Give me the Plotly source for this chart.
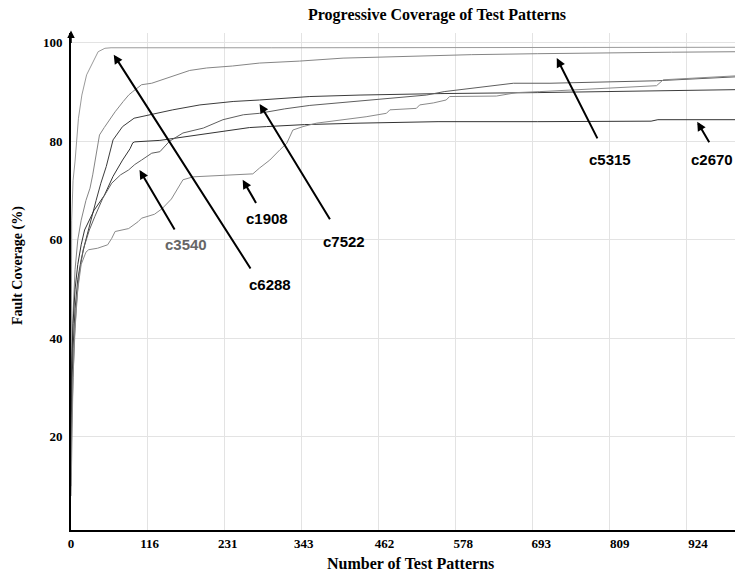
import plotly.graph_objects as go

# ---------------- data ----------------
x_tick_vals = [0, 116, 231, 343, 462, 578, 693, 809, 924]
x_tick_text = ["0", "116", "231", "343", "462", "578", "693", "809", "924"]
x_grid_vals = [113.4, 226.8, 340.2, 453.6, 567, 680.4, 793.8, 907.2]
y_tick_vals = [20, 40, 60, 80, 100]

patterns_c6288 = [0, 0.5, 1, 3, 6, 11, 16, 23, 32, 40, 50, 59, 295, 590, 980]
coverage_c6288 = [12, 50, 64, 72, 76, 84.7, 89.4, 93.5, 96, 98.2, 98.9, 99.0, 99.0, 99.05, 99.1]

patterns_c5315 = [0, 1, 3, 6, 10, 15, 22, 28, 32, 37, 42, 49, 55, 65, 77, 85, 91, 104, 119,
                  134, 148, 175, 200, 238, 278, 337, 401, 492, 590, 688, 786, 885, 980]
coverage_c5315 = [20, 35, 45, 54, 60, 64, 68, 70.5, 73.2, 77.5, 81.3, 82.8, 84, 86, 88.1, 89.4,
                  90.1, 91.5, 91.8, 92.5, 93, 94.4, 94.9, 95.3, 95.9, 96.3, 96.9, 97.3, 97.6,
                  97.8, 98.0, 98.1, 98.2]

patterns_c7522 = [0, 1, 3, 6, 10, 15, 20, 29, 37, 44, 52, 62, 76, 93, 116, 150, 190, 239, 278,
                  352, 426, 544, 688, 836, 980]
coverage_c7522 = [15, 28, 38, 46, 52, 56, 59, 64, 68, 71.5, 74.9, 80.3, 83, 84.7, 85.4, 86.4,
                  87.4, 88.1, 88.4, 89.1, 89.4, 89.7, 89.9, 90.2, 90.5]

patterns_c2670 = [0, 1, 3, 6, 10, 15, 20, 34, 49, 62, 76, 87, 91, 94, 131, 197, 263, 288, 344,
                  426, 541, 688, 855, 865, 980]
coverage_c2670 = [25, 35, 43, 50, 55, 59, 62, 66, 69, 72.9, 76.2, 78.5, 79.7, 79.9, 80.2, 81.5,
                  82.8, 83.0, 83.4, 83.7, 84.0, 84.0, 84.1, 84.4, 84.4]

patterns_c3540 = [0, 1, 3, 5, 8, 12, 18, 27, 35, 47, 60, 73, 85, 94, 104, 119, 131, 145, 165,
                  195, 224, 254, 278, 315, 352, 411, 433, 524, 550, 607, 652, 706, 863, 980]
coverage_c3540 = [10, 22, 32, 40, 47, 53, 58, 62, 64.7, 68.5, 71.5, 73.2, 74.2, 75.3, 76.2,
                  77.6, 77.9, 80, 81.7, 82.7, 84.4, 85.4, 85.7, 86.6, 87.3, 88.0, 88.3, 89.4,
                  90.1, 91.1, 91.8, 91.8, 92.3, 93.1]

patterns_c1908 = [0, 1, 3, 6, 10, 15, 22, 26, 39, 54, 60, 65, 85, 99, 104, 123, 134, 148, 157,
                  165, 180, 268, 278, 293, 308, 318, 327, 342, 362, 411, 435, 465, 470, 509,
                  514, 534, 553, 558, 627, 657, 691, 863, 873, 980]
coverage_c1908 = [8, 20, 32, 42, 50, 55, 57.5, 58, 58.3, 59, 60.3, 61.7, 62.3, 63.7, 64.4, 65.2,
                  66.3, 68.3, 70.3, 72.2, 72.8, 73.4, 74.6, 76.2, 78.3, 79.6, 82.3, 83, 83.7,
                  84.5, 85, 85.7, 86.4, 86.7, 87.4, 87.8, 88.4, 89.1, 89.2, 89.9, 90.1, 91.3,
                  92.5, 93.3]

series = [
    ("c6288", patterns_c6288, coverage_c6288, "#9a9a9a"),
    ("c5315", patterns_c5315, coverage_c5315, "#858585"),
    ("c7522", patterns_c7522, coverage_c7522, "#3c3c3c"),
    ("c2670", patterns_c2670, coverage_c2670, "#333333"),
    ("c3540", patterns_c3540, coverage_c3540, "#5e5e5e"),
    ("c1908", patterns_c1908, coverage_c1908, "#8a8a8a"),
]

# label: (tip_x, tip_y, tail_x, tail_y, label_x, label_y, colour)
labels = [
    ("c6288", 63, 97.6, 266, 53.9, 294, 51.0, "#000000"),
    ("c3540", 101, 74.2, 154, 61.8, 170, 59.0, "#666666"),
    ("c1908", 253, 72.2, 274, 67.2, 289, 64.4, "#000000"),
    ("c7522", 278, 87.6, 383, 63.9, 403, 59.7, "#000000"),
    ("c5315", 716, 96.9, 777, 80.3, 794, 76.4, "#000000"),
    ("c2670", 923, 84.0, 942, 79.5, 945, 76.4, "#000000"),
]

# ---------------- figure ----------------
fig = go.Figure()
for name, xs, ys, col in series:
    fig.add_trace(go.Scatter(x=xs, y=ys, mode="lines", name=name,
                             line=dict(color=col, width=1), showlegend=False))

serif = "Liberation Serif, Times New Roman, serif"
sans = "Liberation Sans, Arial, sans-serif"

annotations = []
for name, tx, ty, ax, ay, lx, ly, col in labels:
    annotations.append(dict(x=tx, y=ty, ax=ax, ay=ay, xref="x", yref="y", axref="x", ayref="y",
                            text="", showarrow=True, arrowhead=2, arrowsize=0.9, arrowwidth=2,
                            arrowcolor="#000000"))
    annotations.append(dict(x=lx, y=ly, xref="x", yref="y", text=name, showarrow=False,
                            font=dict(family=sans, size=15, color=col, weight="bold"),
                            xanchor="center", yanchor="middle"))

# title and axis titles
annotations.append(dict(x=0.551, y=1.0362, xref="paper", yref="paper",
                        text="Progressive Coverage of Test Patterns", showarrow=False,
                        font=dict(family=serif, size=16, color="#000", weight="bold"),
                        xanchor="center", yanchor="middle"))
annotations.append(dict(x=0.512, y=-0.068, xref="paper", yref="paper",
                        text="Number of Test Patterns", showarrow=False,
                        font=dict(family=serif, size=16, color="#000", weight="bold"),
                        xanchor="center", yanchor="middle"))
annotations.append(dict(x=0, y=0.531, xref="paper", yref="paper", xshift=-53,
                        text="Fault Coverage (%)", showarrow=False, textangle=-90,
                        font=dict(family=serif, size=14, color="#000", weight="bold"),
                        xanchor="center", yanchor="middle"))
# arrow at the top of the y axis
annotations.append(dict(x=0, y=1.005, xref="paper", yref="paper", ax=0, ay=14,
                        text="", showarrow=True, arrowhead=2, arrowsize=1, arrowwidth=1.5,
                        arrowcolor="#000"))

fig.update_layout(
    width=735, height=575,
    margin=dict(l=71, r=0, t=33, b=45),
    paper_bgcolor="white", plot_bgcolor="white",
    annotations=annotations,
    showlegend=False,
)
fig.update_xaxes(range=[0, 978.7], tickvals=x_tick_vals, ticktext=x_tick_text,
                 showgrid=False, zeroline=False,
                 minor=dict(tickvals=x_grid_vals, showgrid=True, gridcolor="#e3e3e3",
                            gridwidth=1, ticks=""),
                 showline=True, linecolor="#000", linewidth=2, ticks="",
                 tickfont=dict(family=serif, size=13, color="#000", weight="bold"))
fig.update_yaxes(range=[1.1, 102.0], tickvals=y_tick_vals,
                 showgrid=True, gridcolor="#e3e3e3", gridwidth=1, zeroline=False,
                 showline=True, linecolor="#000", linewidth=2, ticks="",
                 ticklabelstandoff=4,
                 tickfont=dict(family=serif, size=13, color="#000", weight="bold"))

# remove the default page margin so the 735x575 figure fills the window exactly
fig.write_html("out.html", config={"displayModeBar": False},
               post_script="document.body.style.margin='0';document.body.style.overflow='hidden';")
